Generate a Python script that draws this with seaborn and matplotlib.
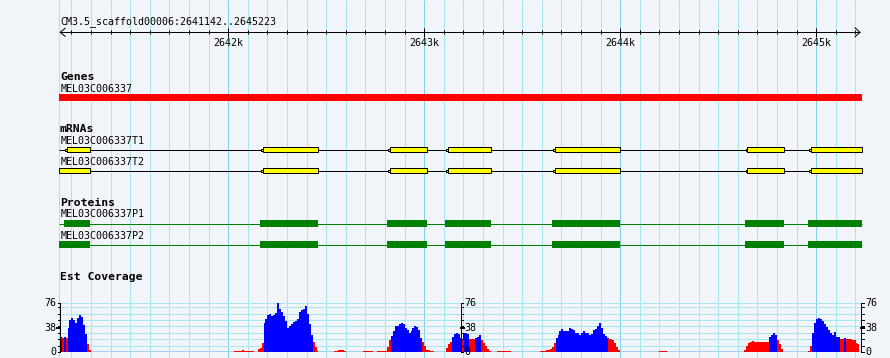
import numpy as np
import pandas as pd
import seaborn as sns
import matplotlib
matplotlib.use('Agg')
from matplotlib import pyplot as plt
from matplotlib.patches import Rectangle

# ---- data -------------------------------------------------------------
ref_name = 'CM3.5_scaffold00006'
view_start, view_end = 2641142, 2645223
ruler_ticks = [2642000, 2643000, 2644000, 2645000]
ruler_labels = ['2642k', '2643k', '2644k', '2645k']

gene_name = 'MEL03C006337'
gene_start, gene_end = 2641100, 2645300
mrna_names = ['MEL03C006337T1', 'MEL03C006337T2']
prot_names = ['MEL03C006337P1', 'MEL03C006337P2']
exon_starts_t1 = [2641167, 2642169, 2642817, 2643113, 2643659, 2644639, 2644965]
exon_starts_t2 = [2641100, 2642169, 2642817, 2643113, 2643659, 2644639, 2644965]
exon_ends = [2641292, 2642458, 2643014, 2643338, 2643999, 2644835, 2645300]

cov_max = 76
cov_bin = 10
# est coverage, 10bp bins; b = blue, r = red
cov_a_start = 2641140
cov_a = [24, 22, 23, 22, 38, 50, 53, 50, 46, 53, 57, 54, 42, 28, 12, 3]
cov_a_col = 'brbrbbbbbbbbbbrr'
cov_b_start = 2642030
cov_b = [2, 2, 2, 2, 3.5, 2, 2, 2, 2, 2]
cov_b_col = 'rrrrrrrrrr'
cov_c_start = 2642150
cov_c = [4, 6, 14, 45, 51, 58, 59, 56, 58, 61, 76, 67, 62, 56, 48, 37, 40, 43, 47, 49,
         52, 62, 66, 67, 72, 60, 44, 26, 16, 8, 2]
cov_c_col = 'rrr' + 'b' * 25 + 'rrr'
cov_d_start = 2642540
cov_d = [1.5, 2, 3, 3, 3, 1.5]
cov_d_col = 'rrrrrr'
cov_e_start = 2642690
cov_e = [1.6, 1.6, 1.6, 1.6, 1.6]
cov_e_col = 'rrrrr'
cov_f_start = 2642760
cov_f = [1.6, 1.6, 1.6, 1.6, 2, 8, 18, 25, 33, 40, 41, 44, 45, 44, 38, 35, 30, 32, 37, 41,
         39, 34, 22, 15, 10, 3, 2.5, 2, 1.5]
cov_f_col = 'r' * 7 + 'b' * 16 + 'r' * 6
cov_g_start = 2643110
cov_g = [6, 12, 16, 23, 28, 30, 28, 22, 20, 29, 30, 28, 20, 20, 20, 22, 24, 26, 18, 14, 9, 5, 1]
cov_g_col = 'rrr' + 'bbbbb' + 'r' + 'bbb' + 'rrr' + 'bbb' + 'rrrrr'
cov_h_start = 2643370
cov_h = [1.6, 1.6, 1.6, 1.6, 1.6, 1.6, 1.6]
cov_h_col = 'rrrrrrr'
cov_i_start = 2643590
cov_i = [1.6, 1.6, 2, 3, 3, 4, 8, 14, 22, 27, 33, 36, 33, 33, 33, 37, 36, 34, 30, 30,
         26, 30, 33, 29, 30, 27, 28, 34, 36, 41, 46, 37, 28, 25, 22, 20, 20, 19, 14, 8, 3]
cov_i_col = 'r' * 8 + 'b' * 27 + 'r' * 6
cov_j_start = 2644200
cov_j = [1.6, 1.6, 1.6, 1.6]
cov_j_col = 'rrrr'
cov_k_start = 2644630
cov_k = [3, 10, 14, 16, 17, 16, 15, 16, 15, 16, 15, 16, 16, 24, 27, 29, 27, 19, 12, 4]
cov_k_col = 'r' * 13 + 'bbbb' + 'rrr'
cov_l_start = 2644960
cov_l = [2, 10, 30, 45, 51, 53, 52, 48, 44, 39, 34, 29, 27, 31, 24, 23, 20, 20, 22, 20,
         20, 20, 19, 19, 14, 13]
cov_l_col = 'rr' + 'b' * 14 + 'rr' + 'b' + 'r' * 7

# ---- layout helpers ---------------------------------------------------
W, H = 890, 358
px_per_bp = 0.196
x0_px = 60.13


def px2bp(px):
    return view_start + (px - x0_px) / px_per_bp


x_lo, x_hi = px2bp(0), px2bp(W)
clip_l, clip_r = px2bp(59.3), px2bp(862)
bg = '#f1f4f9'
grid_minor = '#a6e6ee'
grid_major = '#86cdea'
mono = 'DejaVu Sans Mono'
fs_small = 7.2
fs_bold = 8.2
lw1 = 0.72  # one pixel

fig = plt.figure(figsize=(W / 100, H / 100), dpi=100, facecolor=bg)
ax = fig.add_axes([0, 0, 1, 1])
ax.set_xlim(x_lo, x_hi)
ax.set_ylim(H, 0)
ax.axis('off')

# vertical grid
grid_pos = np.arange(2641200, 2645201, 100)
ax.vlines(clip_l, 0, H, color=grid_minor, lw=lw1, zorder=0)
for g in grid_pos:
    ax.vlines(g, 0, H, color=grid_major if g % 1000 == 0 else grid_minor, lw=lw1, zorder=0)

# ruler
ry = 32.3
ax.hlines(ry, view_start, view_end, color='black', lw=lw1)
a = 5 / px_per_bp
ax.plot([view_start + a, view_start, view_start + a], [ry - 4, ry, ry + 4], color='black', lw=lw1)
ax.plot([view_end - a, view_end, view_end - a], [ry - 4.5, ry, ry + 4.5], color='black', lw=lw1)
for g in grid_pos:
    if g % 1000 == 0:
        ax.vlines(g, ry - 4.5, ry + 4.5, color='black', lw=lw1)
    else:
        ax.vlines(g, ry - 2.3, ry + 2, color='black', lw=lw1)
for t, lab in zip(ruler_ticks, ruler_labels):
    ax.text(t, 45.7, lab, ha='center', va='baseline', family=mono, fontsize=fs_small)
ax.text(px2bp(60.5), 24.5, f'{ref_name}:{view_start}..{view_end}', ha='left',
        va='baseline', family=mono, fontsize=fs_small)

# genes track
ax.text(px2bp(60), 80, 'Genes', ha='left', va='baseline', family=mono,
        fontsize=fs_bold, fontweight='bold')
ax.text(px2bp(60.5), 91.7, gene_name, ha='left', va='baseline', family=mono, fontsize=fs_small)
gs, ge = max(gene_start, clip_l), min(gene_end, clip_r)
ax.add_patch(Rectangle((gs, 94.3), ge - gs, 6.7, facecolor='#ff0000', edgecolor='none'))

# mRNA track
ax.text(px2bp(60), 131.7, 'mRNAs', ha='left', va='baseline', family=mono,
        fontsize=fs_bold, fontweight='bold')
notch = 1.8 / px_per_bp
for name, starts, yl, ylab in zip(mrna_names, [exon_starts_t1, exon_starts_t2],
                                  [149.5, 170.5], [144, 165]):
    ax.text(px2bp(60.5), ylab, name, ha='left', va='baseline', family=mono, fontsize=fs_small)
    ax.hlines(yl, clip_l, clip_r, color='black', lw=lw1, zorder=2)
    for s, e in zip(starts, exon_ends):
        e = min(e, clip_r)
        if s >= clip_l:
            ax.add_patch(Rectangle((s, yl - 1), notch, 2, facecolor='#ffff00',
                                   edgecolor='black', lw=lw1, zorder=3))
            s = s + notch
        else:
            s = clip_l
        ax.add_patch(Rectangle((s, yl - 2.3), e - s, 4.6, facecolor='#ffff00',
                               edgecolor='black', lw=lw1, zorder=3))

# proteins track
ax.text(px2bp(60), 205.5, 'Proteins', ha='left', va='baseline', family=mono,
        fontsize=fs_bold, fontweight='bold')
for name, starts, yl, ylab in zip(prot_names, [exon_starts_t1, exon_starts_t2],
                                  [223.5, 244.5], [217.3, 239]):
    ax.text(px2bp(60.5), ylab, name, ha='left', va='baseline', family=mono, fontsize=fs_small)
    ax.hlines(yl, clip_l, clip_r, color='#008000', lw=lw1, zorder=2)
    for s, e in zip(starts, exon_ends):
        s, e = max(s - 5, clip_l), min(e, clip_r)
        ax.add_patch(Rectangle((s, yl - 3.2), e - s, 6.6, facecolor='#008000',
                               edgecolor='none', zorder=3))

# coverage track
ax.text(px2bp(60), 280, 'Est Coverage', ha='left', va='baseline', family=mono,
        fontsize=fs_bold, fontweight='bold')

blocks = [(cov_a_start, cov_a, cov_a_col), (cov_b_start, cov_b, cov_b_col),
          (cov_c_start, cov_c, cov_c_col), (cov_d_start, cov_d, cov_d_col),
          (cov_e_start, cov_e, cov_e_col), (cov_f_start, cov_f, cov_f_col),
          (cov_g_start, cov_g, cov_g_col), (cov_h_start, cov_h, cov_h_col),
          (cov_i_start, cov_i, cov_i_col), (cov_j_start, cov_j, cov_j_col),
          (cov_k_start, cov_k, cov_k_col), (cov_l_start, cov_l, cov_l_col)]
rows = []
for start, vals, cols in blocks:
    for k, (v, c) in enumerate(zip(vals, cols)):
        rows.append({'pos': start + cov_bin * k + cov_bin / 2, 'depth': v, 'kind': c})
cov_df = pd.DataFrame(rows)

y_base, y_top = 352, 303.3
cax = fig.add_axes([0, (H - y_base) / H, 1, (y_base - y_top) / H])
cax.set_xlim(x_lo, x_hi)
cax.set_ylim(0, cov_max)
cax.patch.set_alpha(0)

grid_y = [10, 20, 30, 40, 50, 60, 70, 76]
cax.hlines(grid_y, clip_l, px2bp(861), color=grid_minor, lw=lw1, zorder=0)
cax.hlines(0, clip_l, px2bp(861), color='#9fd3ee', lw=2 * lw1, zorder=0)

sns.barplot(data=cov_df, x='pos', y='depth', hue='kind', hue_order=['b', 'r'],
            palette={'b': '#0000ff', 'r': '#ff0000'}, native_scale=True, dodge=False,
            width=1.04, errorbar=None, saturation=1, linewidth=0, antialiased=False,
            legend=False, ax=cax, zorder=2)
cax.set_xlim(x_lo, x_hi)
cax.set_ylim(0, cov_max)
cax.axis('off')

# y axes: left, middle, right
tick_vals = [0, 10, 20, 30, 40, 50, 60, 70, 76]
t_len = 2.5 / px_per_bp
for axx, side in [(px2bp(60.3), -1), (px2bp(460.8), 1), (px2bp(861), 1)]:
    cax.plot([axx, axx], [0, cov_max], color='black', lw=lw1, clip_on=False, zorder=5)
    for tv in tick_vals:
        cax.plot([axx, axx + side * t_len], [tv, tv], color='black', lw=lw1,
                 clip_on=False, zorder=5)
    cax.plot([axx, axx + side * t_len * 1.2], [38, 38], color='black', lw=2 * lw1,
             clip_on=False, zorder=5)
    for lv in [0, 38, 76]:
        cax.text(axx + side * 4 / px_per_bp, lv, str(lv), ha='right' if side < 0 else 'left',
                 va='center', family=mono, fontsize=fs_small, clip_on=False, zorder=5)

fig.savefig('out.png', dpi=100, facecolor=bg)
